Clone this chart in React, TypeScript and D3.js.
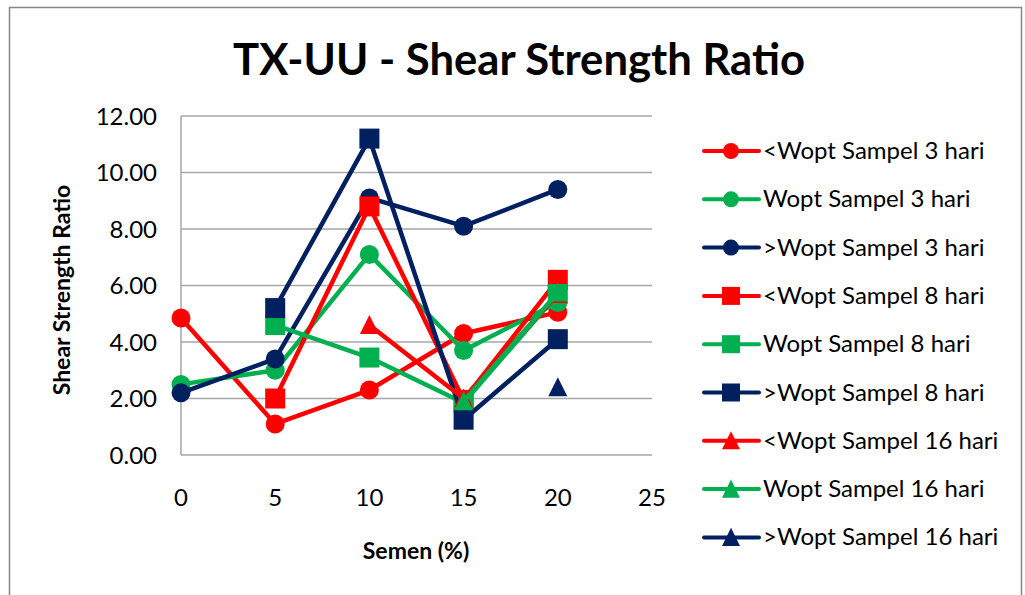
import React, { useRef, useEffect } from 'react';
import * as d3 from 'd3';

// x values (Semen %)
const semen = [0, 5, 10, 15, 20];

// series values, null = no point
const lowW3 = [4.85, 1.1, 2.3, 4.3, 5.05];
const optW3 = [2.5, 3.0, 7.1, 3.7, 5.4];
const highW3 = [2.2, 3.4, 9.1, 8.1, 9.4];
const lowW8 = [null, 2.0, 8.8, 1.95, 6.2];
const optW8 = [null, 4.6, 3.45, 1.85, 5.7];
const highW8 = [null, 5.2, 11.2, 1.25, 4.1];
const lowW16 = [null, null, 4.6, 2.0, 5.7];
const optW16 = [null, null, null, 1.9, 5.75];
const highW16 = [null, null, null, null, 2.4];

const seriesNames = [
  '<Wopt Sampel 3 hari', 'Wopt Sampel 3 hari', '>Wopt Sampel 3 hari',
  '<Wopt Sampel 8 hari', 'Wopt Sampel 8 hari', '>Wopt Sampel 8 hari',
  '<Wopt Sampel 16 hari', 'Wopt Sampel 16 hari', '>Wopt Sampel 16 hari',
];
const seriesValues = [lowW3, optW3, highW3, lowW8, optW8, highW8, lowW16, optW16, highW16];
const colors = ['#FF0000', '#00B050', '#002060'];
const shapes = ['circle', 'square', 'triangle'];

const yTicks = [0, 2, 4, 6, 8, 10, 12];
const xTicks = [0, 5, 10, 15, 20, 25];

const FONT = 'Lato, "Open Sans", sans-serif';

function drawMarker(g, shape, x, y, size, color) {
  if (shape === 'circle') {
    g.append('circle').attr('cx', x).attr('cy', y).attr('r', size / 2).attr('fill', color);
  } else if (shape === 'square') {
    g.append('rect').attr('x', x - size / 2).attr('y', y - size / 2)
      .attr('width', size).attr('height', size).attr('fill', color);
  } else {
    const h = size * 0.95;
    g.append('path')
      .attr('d', `M${x},${y - h / 2 - 1}L${x + size / 2},${y + h / 2}L${x - size / 2},${y + h / 2}Z`)
      .attr('fill', color);
  }
}

export default function App() {
  const ref = useRef(null);

  useEffect(() => {
    const svg = d3.select(ref.current);
    svg.selectAll('*').remove();

    const left = 181, right = 652, top = 116, bottom = 455;
    const x = d3.scaleLinear().domain([0, 25]).range([left, right]);
    const y = d3.scaleLinear().domain([0, 12]).range([bottom, top]);

    // chart frame
    svg.append('rect').attr('x', 9.5).attr('y', 7.5).attr('width', 1012).attr('height', 600)
      .attr('fill', '#fff').attr('stroke', '#868686').attr('stroke-width', 1.5);

    svg.append('text')
      .attr('x', 519).attr('y', 75)
      .attr('text-anchor', 'middle')
      .attr('font-family', FONT).attr('font-weight', 'bold').attr('font-size', 44)
      .attr('textLength', 572).attr('lengthAdjust', 'spacingAndGlyphs')
      .text('TX-UU - Shear Strength Ratio');

    // gridlines
    svg.append('g').selectAll('line').data(yTicks).enter().append('line')
      .attr('x1', left).attr('x2', right)
      .attr('y1', d => y(d)).attr('y2', d => y(d))
      .attr('stroke', '#A6A6A6').attr('stroke-width', 1.5);

    // y axis line
    svg.append('line').attr('x1', left).attr('x2', left).attr('y1', top).attr('y2', bottom)
      .attr('stroke', '#A6A6A6').attr('stroke-width', 1.5);

    svg.append('g').selectAll('text').data(yTicks).enter().append('text')
      .attr('x', 157).attr('y', d => y(d) + 8.5)
      .attr('text-anchor', 'end')
      .attr('font-family', FONT).attr('font-size', 24)
      .text(d => d3.format('.2f')(d));

    svg.append('g').selectAll('text').data(xTicks).enter().append('text')
      .attr('x', d => x(d)).attr('y', 506)
      .attr('text-anchor', 'middle')
      .attr('font-family', FONT).attr('font-size', 24)
      .text(d => d);

    svg.append('text')
      .attr('x', 416).attr('y', 559)
      .attr('text-anchor', 'middle')
      .attr('font-family', FONT).attr('font-weight', 'bold').attr('font-size', 23)
      .text('Semen (%)');

    svg.append('text')
      .attr('transform', 'translate(70,290) rotate(-90)')
      .attr('text-anchor', 'middle')
      .attr('font-family', FONT).attr('font-weight', 'bold').attr('font-size', 23)
      .text('Shear Strength Ratio');

    const line = d3.line()
      .defined(d => d[1] !== null)
      .x(d => x(d[0]))
      .y(d => y(d[1]));

    const plot = svg.append('g');
    seriesValues.forEach((vals, i) => {
      const color = colors[i % 3];
      const shape = shapes[Math.floor(i / 3)];
      const pts = semen.map((s, j) => [s, vals[j]]);
      plot.append('path').datum(pts)
        .attr('d', line)
        .attr('fill', 'none').attr('stroke', color).attr('stroke-width', 4.5)
        .attr('stroke-linejoin', 'round');
      pts.filter(p => p[1] !== null).forEach(p => {
        drawMarker(plot, shape, x(p[0]), y(p[1]), shape === 'circle' ? 19 : shape === 'square' ? 20 : 19, color);
      });
    });

    // legend
    const leg = svg.append('g');
    seriesNames.forEach((name, i) => {
      const cy = 151 + i * 48.3;
      const color = colors[i % 3];
      const shape = shapes[Math.floor(i / 3)];
      leg.append('line').attr('x1', 704).attr('x2', 759).attr('y1', cy).attr('y2', cy)
        .attr('stroke', color).attr('stroke-width', 4).attr('stroke-linecap', 'round');
      drawMarker(leg, shape, 731, cy, shape === 'circle' ? 16 : 18, color);
      leg.append('text')
        .attr('x', 763).attr('y', cy + 8)
        .attr('font-family', FONT).attr('font-size', 24)
        .text(name);
    });
  }, []);

  return (
    <svg ref={ref} width={1025} height={595}
      style={{ position: 'absolute', left: 0, top: 0, background: '#fff' }} />
  );
}
